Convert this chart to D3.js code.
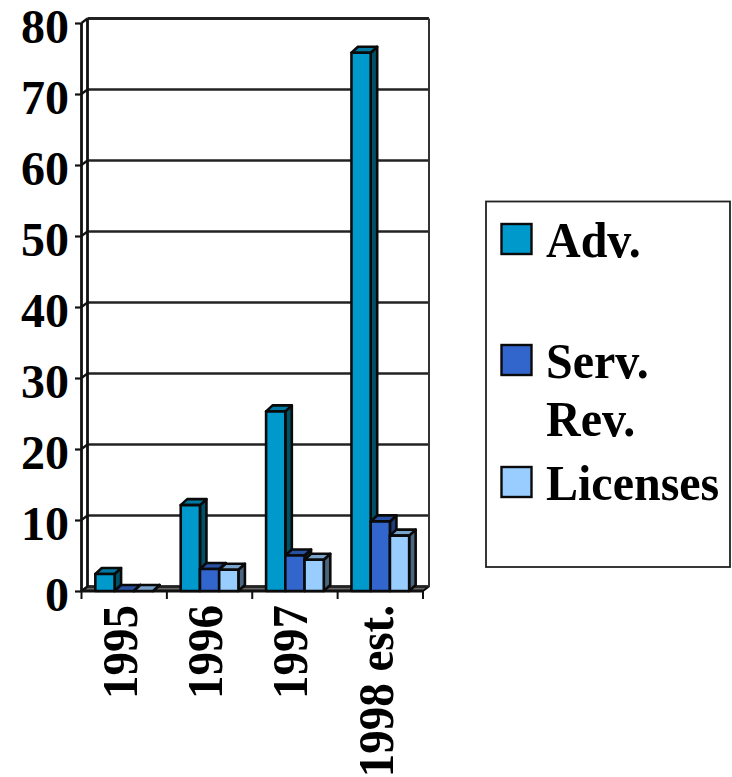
<!DOCTYPE html>
<html><head><meta charset="utf-8">
<script src="https://cdn.jsdelivr.net/npm/d3@7"></script>
<style>html,body{margin:0;padding:0;background:#fff}svg{display:block}
text{font-family:"Liberation Serif",serif;font-weight:bold;fill:#000}</style></head>
<body><script>
const categories=["1995","1996","1997","1998 est."];
const seriesNames=["Adv.","Serv. Rev.","Licenses"];
const advValues=[2.4,12.1,25.3,75.8];
const servValues=[0,3.1,5,9.8];
const licenseValues=[0,3,4.4,7.8];
const yTicks=[0,10,20,30,40,50,60,70,80];
const fills=["#0099CC","#3366CC","#99CCFF"];
const tops=["#007AA3","#2851A3","#7AA3CC"];
const sides=["#005066","#1F3D7A","#4D6680"];

const W=732,H=777,dx=6,dy=-4.5,bdx=6.5,bdy=-6;
const svg=d3.select("body").append("svg").attr("width",W).attr("height",H);
const y=d3.scaleLinear().domain([0,80]).range([591,23]);
const x=d3.scaleBand().domain(categories).range([81.5,423]);
const xs=d3.scaleBand().domain([0,1,2]).range([0,x.bandwidth()]).paddingOuter(0.72).paddingInner(0);
const ln=(x1,y1,x2,y2,w=2.4,c="#111")=>svg.append("line").attr("x1",x1).attr("y1",y1).attr("x2",x2).attr("y2",y2).attr("stroke",c).attr("stroke-width",w);
const poly=(pts,f,w=2.6)=>svg.append("polygon").attr("points",pts.map(p=>p.join(",")).join(" ")).attr("fill",f).attr("stroke","#0a0a0a").attr("stroke-width",w).attr("stroke-linejoin","round");

// floor
poly([[x.range()[0],y(0)],[x.range()[1],y(0)],[x.range()[1]+dx,y(0)+dy],[x.range()[0]+dx,y(0)+dy]],"#666",1.8);
// back wall and gridlines
yTicks.forEach(t=>ln(x.range()[0]+dx,y(t)+dy,x.range()[1]+dx,y(t)+dy,t===80?2.8:2.3,"#222"));
ln(x.range()[1]+dx,y(80)+dy,x.range()[1]+dx,y(0)+dy,2,"#333");
ln(x.range()[0]+dx,y(80)+dy,x.range()[0]+dx,y(0)+dy,2.8);
// front y axis
ln(x.range()[0],y(80),x.range()[0],y(0),2.8);
yTicks.forEach(t=>ln(x.range()[0],y(t),x.range()[0]+dx,y(t)+dy,2.2));

// axes
const yAxis=d3.axisLeft(y).tickValues(yTicks).tickSize(6.5).tickPadding(4);
const gy=svg.append("g").attr("transform",`translate(${x.range()[0]},0)`).call(yAxis);
gy.select(".domain").remove();
gy.selectAll("line").attr("stroke","#111").attr("stroke-width",2.2);
gy.selectAll("text").attr("font-size",48).style("font-family",'"Liberation Serif",serif').style("font-weight","bold").attr("fill","#000")
  .attr("x",-12.5).attr("dy",19.5);

const tickXs=categories.map(c=>x(c)).concat(x.range()[1]);
ln(x.range()[0],y(0),x.range()[1],y(0),2.8);
tickXs.forEach(t=>ln(t,y(0),t,y(0)+8,2));
categories.forEach(c=>{
  svg.append("text").attr("transform",`translate(${x(c)+x.bandwidth()/2+12.5},605) rotate(-90) scale(0.94,1)`)
    .attr("text-anchor","end").attr("font-size",50).text(c);
});

// bars
[advValues,servValues,licenseValues].forEach((vals,s)=>{
  vals.forEach((v,i)=>{
    const x0=x(categories[i])+xs(s),x1=x0+xs.bandwidth(),yt=y(v),yb=y(0);
    poly([[x1,yb],[x1+bdx,yb+bdy],[x1+bdx,yt+bdy],[x1,yt]],sides[s]);
    poly([[x0,yt],[x1,yt],[x1+bdx,yt+bdy],[x0+bdx,yt+bdy]],tops[s]);
    if(v>0) poly([[x0,yb],[x1,yb],[x1,yt],[x0,yt]],fills[s]);
  });
});

// legend
svg.append("rect").attr("x",486).attr("y",201.5).attr("width",244).attr("height",365.5).attr("fill","#fff").attr("stroke","#222").attr("stroke-width",1.8);
const legendY=[239,360,482];
const legendLines=[[["Adv.",257]],[["Serv.",378],["Rev.",436]],[["Licenses",500]]];
seriesNames.forEach((n,i)=>{
  svg.append("rect").attr("x",501.5).attr("y",legendY[i]-15).attr("width",30).attr("height",30).attr("fill",fills[i]).attr("stroke","#0a0a0a").attr("stroke-width",2.4);
  legendLines[i].forEach(([t,b])=>svg.append("text").attr("transform",`translate(546,${b}) scale(0.96,1)`).attr("font-size",50).text(t));
});
</script></body></html>
